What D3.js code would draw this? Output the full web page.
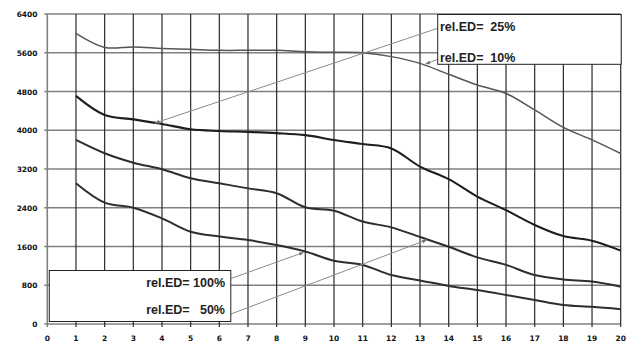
<!DOCTYPE html>
<html><head><meta charset="utf-8">
<script src="https://cdn.jsdelivr.net/npm/d3@7/dist/d3.min.js"></script>
<style>html,body{margin:0;padding:0;background:#fff}svg{display:block}</style>
</head><body>
<script>
const xTicks = d3.range(0, 21);
const yTicks = [0, 800, 1600, 2400, 3200, 4000, 4800, 5600, 6400];
const xs = d3.range(1, 21);
const ed10  = [6000,5710,5720,5690,5670,5650,5650,5650,5620,5610,5600,5520,5380,5155,4935,4760,4420,4060,3800,3520];
const ed25  = [4710,4315,4225,4130,4020,3985,3965,3940,3900,3800,3715,3625,3250,2990,2630,2350,2045,1815,1720,1515];
const ed50  = [3800,3525,3330,3195,3010,2905,2800,2700,2410,2340,2115,1995,1795,1595,1375,1220,1010,920,875,770];
const ed100 = [2905,2505,2400,2180,1905,1805,1735,1630,1495,1305,1220,1010,900,785,700,600,495,390,355,305];
const seriesNames = ["rel.ED=  10%","rel.ED=  25%","rel.ED=   50%","rel.ED= 100%"];
// leader targets on curves (data coords)
const targets = {"10": [13.2, 5370], "25": [3.76, 4150], "50": [13.23, 1735], "100": [8.93, 1475]};

const W = 629, H = 349;
const svg = d3.select("body").append("svg").attr("width", W).attr("height", H);
const x = d3.scaleLinear().domain([0, 20]).range([47.3, 620.7]);
const y = d3.scaleLinear().domain([0, 6400]).range([324, 14]);

// grid
svg.append("g").selectAll("line").data(yTicks).join("line")
  .attr("x1", x(0) - 3).attr("x2", x(20)).attr("y1", d => y(d)).attr("y2", d => y(d))
  .attr("stroke", "#808080").attr("stroke-width", 1.6);
svg.append("g").selectAll("line").data(xTicks).join("line")
  .attr("x1", d => x(d)).attr("x2", d => x(d)).attr("y1", y(6400)).attr("y2", y(0) + 3)
  .attr("stroke", d => d === 0 ? "#808080" : "#2a2a2a").attr("stroke-width", d => d === 0 ? 1.6 : 1.2);

// tick labels
svg.append("g").selectAll("text").data(yTicks).join("text")
  .attr("x", 37.5).attr("y", d => y(d) + 1).attr("text-anchor", "end").attr("dominant-baseline", "middle")
  .attr("font-family", "DejaVu Sans").attr("font-weight", "bold").attr("font-size", 7.5).attr("fill", "#111")
  .text(d => d);
svg.append("g").selectAll("text").data(xTicks).join("text")
  .attr("x", d => x(d)).attr("y", 338.5).attr("text-anchor", "middle").attr("dominant-baseline", "middle")
  .attr("font-family", "DejaVu Sans").attr("font-weight", "bold").attr("font-size", 7.5).attr("fill", "#111")
  .text(d => d);

// curves
const line = d3.line().x((d, i) => x(xs[i])).y(d => y(d)).curve(d3.curveCatmullRom.alpha(0.5));
const styles = [
  {data: ed10, color: "#555", w: 1.5},
  {data: ed25, color: "#1e1e1e", w: 2.1},
  {data: ed50, color: "#2e2e2e", w: 2},
  {data: ed100, color: "#2e2e2e", w: 2}
];
styles.forEach(s => {
  svg.append("path").attr("d", line(s.data)).attr("fill", "none")
    .attr("stroke", s.color).attr("stroke-width", s.w);
});

// arrow marker
svg.append("defs").append("marker").attr("id", "arr").attr("viewBox", "0 0 10 10")
  .attr("refX", 9).attr("refY", 5).attr("markerWidth", 5).attr("markerHeight", 5).attr("orient", "auto")
  .append("path").attr("d", "M0,1 L10,5 L0,9 z").attr("fill", "#777");

// leader lines
const leaders = [
  {from: [437.7, 28.3], to: targets["25"]},
  {from: [437.3, 59.5], to: targets["10"]},
  {from: [231, 278.5], to: targets["100"]},
  {from: [231, 314], to: targets["50"]}
];
leaders.forEach(l => {
  svg.append("line").attr("x1", l.from[0]).attr("y1", l.from[1])
    .attr("x2", x(l.to[0])).attr("y2", y(l.to[1]))
    .attr("stroke", "#8a8a8a").attr("stroke-width", 1).attr("marker-end", "url(#arr)");
});

// legend boxes
svg.append("rect").attr("x", 437.7).attr("y", 14.5).attr("width", 183.5).attr("height", 49.8)
  .attr("fill", "#fff").attr("stroke", "#222").attr("stroke-width", 1);
svg.append("rect").attr("x", 49.3).attr("y", 270.5).attr("width", 181.5).attr("height", 51)
  .attr("fill", "#fff").attr("stroke", "#222").attr("stroke-width", 1);

const lt = (tx, ty, txt, anchor) => svg.append("text").attr("x", tx).attr("y", ty)
  .attr("text-anchor", anchor).attr("font-family", "Liberation Sans, Arial").attr("font-weight", "bold")
  .attr("font-size", 12.5).attr("fill", "#222").attr("xml:space", "preserve").style("white-space", "pre").text(txt);
lt(440, 31, seriesNames[1], "start");
lt(440, 61.5, seriesNames[0], "start");
lt(225, 286.5, seriesNames[3], "end");
lt(225, 313.5, seriesNames[2], "end");
</script>
</body></html>
